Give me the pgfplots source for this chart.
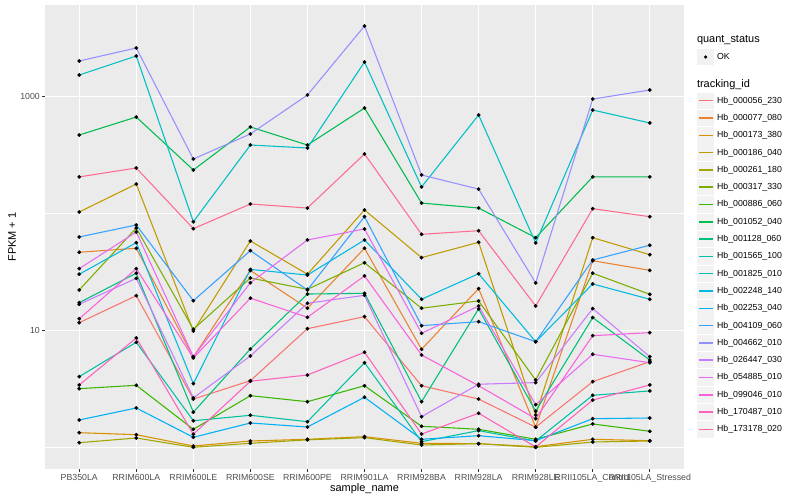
\documentclass[border=0pt]{standalone}
\usepackage{fontspec}
\setmainfont{Liberation Sans}
\usepackage{pgfplots}
\pgfplotsset{compat=1.18}
\definecolor{panel}{HTML}{EBEBEB}
\definecolor{keygrey}{HTML}{F2F2F2}
\definecolor{ticktext}{HTML}{4D4D4D}
\definecolor{tickcol}{HTML}{333333}
\definecolor{c1}{HTML}{F8766D}
\definecolor{c2}{HTML}{EA8331}
\definecolor{c3}{HTML}{D89000}
\definecolor{c4}{HTML}{C09B00}
\definecolor{c5}{HTML}{A3A500}
\definecolor{c6}{HTML}{7CAE00}
\definecolor{c7}{HTML}{39B600}
\definecolor{c8}{HTML}{00BB4E}
\definecolor{c9}{HTML}{00BF7D}
\definecolor{c10}{HTML}{00C1A3}
\definecolor{c11}{HTML}{00BFC4}
\definecolor{c12}{HTML}{00BAE0}
\definecolor{c13}{HTML}{00B0F6}
\definecolor{c14}{HTML}{35A2FF}
\definecolor{c15}{HTML}{9590FF}
\definecolor{c16}{HTML}{C77CFF}
\definecolor{c17}{HTML}{E76BF3}
\definecolor{c18}{HTML}{FA62DB}
\definecolor{c19}{HTML}{FF62BC}
\definecolor{c20}{HTML}{FF6C91}
\pgfplotsset{ser/.style={#1, line width=1.07bp, mark=*, mark size=1.8bp, mark options={draw=black, fill=black, line width=0.2bp}}}
\begin{document}
\begin{tikzpicture}
\useasboundingbox (0,0) rectangle (800bp,500bp);
\begin{axis}[
  at={(45bp,31bp)}, anchor=south west,
  scale only axis, width=639bp, height=464bp,
  xmin=-0.6, xmax=10.6,
  ymode=log, ymin=0.6533, ymax=6087,
  axis background/.style={fill=panel},
  axis line style={draw=none},
  xtick={0,1,2,3,4,5,6,7,8,9,10},
  xticklabels={PB350LA,RRIM600LA,RRIM600LE,RRIM600SE,RRIM600PE,RRIM901LA,RRIM928BA,RRIM928LA,RRIM928LE,RRII105LA\_Control,RRII105LA\_Stressed},
  ytick={10,1000}, yticklabels={10,1000},
  minor ytick={1,100},
  xmajorgrids, ymajorgrids, yminorgrids,
  major grid style={white, line width=1.07bp},
  minor grid style={white, line width=0.53bp},
  tick align=outside, xtick pos=bottom, ytick pos=left,
  major tick length=2.75bp, minor tick length=0pt,
  major tick style={tickcol, line width=1.07bp},
  tick label style={font=\fontsize{8.8}{10}\selectfont, text=ticktext},
  xticklabel style={inner sep=0pt, yshift=-2.2bp},
  yticklabel style={inner sep=0pt, xshift=-2.2bp},
  xlabel={sample\_name}, ylabel={FPKM + 1},
  label style={font=\fontsize{11}{13}\selectfont},
  xlabel style={at={(axis description cs:0.5,-0.0478)}, anchor=base, inner sep=0pt},
  ylabel style={at={(axis description cs:-0.0516,0.5)}, anchor=center, inner sep=0pt},
  legend image code/.code={\fill[keygrey, draw=none] (0.3bp,-8.2bp) rectangle (17bp,8.2bp); \path[draw=none, fill=none] (0bp,-8.65bp) rectangle (17.3bp,8.65bp); \draw[#1,mark=none,line width=1.45bp] (1.7bp,0bp) -- (15.6bp,0bp);},
  legend style={at={(axis description cs:1.02034,0.94181)}, anchor=north west, draw=none, fill=none, inner sep=0pt, outer sep=0pt, column sep=2.75bp, row sep=0pt, font=\fontsize{8.8}{10}\selectfont, nodes={inner sep=0pt, draw=none, fill=none}},
  legend cell align=left,
]
\addlegendimage{legend image code/.code={\path[draw=none, fill=none] (0bp,-8.35bp) rectangle (17.3bp,8bp);}}
\addlegendentry{\hspace*{-20.05bp}\fontsize{11}{13}\selectfont quant\_status}
\addlegendimage{legend image code/.code={\fill[keygrey, draw=none] (0.3bp,-8.2bp) rectangle (17bp,8.2bp); \path[draw=none, fill=none] (0bp,-8.65bp) rectangle (17.3bp,8.65bp); \fill[black, draw=none] (8.65bp,0bp) circle[radius=1.8bp];}}
\addlegendentry{OK}
\addlegendimage{legend image code/.code={\path[draw=none, fill=none] (0bp,-7.75bp) rectangle (17.3bp,18.65bp);}}
\addlegendentry{\hspace*{-20.05bp}\fontsize{11}{13}\selectfont tracking\_id}

\addplot[ser=c1] coordinates {(0,11.66) (1,19.85) (2,2.59) (3,3.72) (4,10.36) (5,13.13) (6,3.37) (7,2.59) (8,1.49) (9,3.65) (10,5.41)};
\addlegendentry{Hb\_000056\_230}
\addplot[ser=c2] coordinates {(0,46.7) (1,50.5) (2,5.93) (3,32.6) (4,15.5) (5,50.5) (6,6.91) (7,22.8) (8,1.49) (9,39.5) (10,32.7)};
\addlegendentry{Hb\_000077\_080}
\addplot[ser=c3] coordinates {(0,1.336) (1,1.284) (2,1.028) (3,1.134) (4,1.173) (5,1.235) (6,1.084) (7,1.076) (8,1.014) (9,1.173) (10,1.141)};
\addlegendentry{Hb\_000173\_380}
\addplot[ser=c4] coordinates {(0,103.2) (1,179) (2,9.90) (3,58.3) (4,30.3) (5,107.4) (6,42.0) (7,56.8) (8,1.89) (9,62.2) (10,44.5)};
\addlegendentry{Hb\_000186\_040}
\addplot[ser=c5] coordinates {(0,1.097) (1,1.203) (2,1.002) (3,1.084) (4,1.16) (5,1.211) (6,1.048) (7,1.076) (8,1.0) (9,1.112) (10,1.134)};
\addlegendentry{Hb\_000261\_180}
\addplot[ser=c6] coordinates {(0,22.2) (1,75.3) (2,10.24) (3,28.1) (4,22.5) (5,38.0) (6,15.5) (7,17.9) (8,3.77) (9,30.9) (10,20.4)};
\addlegendentry{Hb\_000317\_330}
\addplot[ser=c7] coordinates {(0,3.178) (1,3.398) (2,1.428) (3,2.769) (4,2.46) (5,3.37) (6,1.515) (7,1.428) (8,1.173) (9,1.586) (10,1.373)};
\addlegendentry{Hb\_000886\_060}
\addplot[ser=c8] coordinates {(0,470) (1,670) (2,236) (3,551) (4,386) (5,800) (6,123) (7,111.6) (8,62.2) (9,206) (10,206)};
\addlegendentry{Hb\_001052\_040}
\addplot[ser=c9] coordinates {(0,17.3) (1,30.9) (2,2.00) (3,6.95) (4,20.5) (5,20.8) (6,2.46) (7,15.3) (8,2.04) (9,12.9) (10,5.59)};
\addlegendentry{Hb\_001128\_060}
\addplot[ser=c10] coordinates {(0,4.03) (1,7.93) (2,1.69) (3,1.882) (4,1.659) (5,5.30) (6,1.119) (7,1.390) (8,1.134) (9,2.79) (10,3.04)};
\addlegendentry{Hb\_001565\_100}
\addplot[ser=c11] coordinates {(0,1533) (1,2229) (2,85.2) (3,386) (4,364) (5,1981) (6,169) (7,697) (8,56.1) (9,769) (10,596)};
\addlegendentry{Hb\_001825\_010}
\addplot[ser=c12] coordinates {(0,30.3) (1,56.4) (2,3.51) (3,33.3) (4,29.8) (5,59.5) (6,18.5) (7,30.6) (8,8.02) (9,25.0) (10,18.5)};
\addlegendentry{Hb\_002248\_140}
\addplot[ser=c13] coordinates {(0,1.715) (1,2.173) (2,1.220) (3,1.617) (4,1.494) (5,2.683) (6,1.173) (7,1.259) (8,1.141) (9,1.76) (10,1.784)};
\addlegendentry{Hb\_002253\_040}
\addplot[ser=c14] coordinates {(0,63.1) (1,79.9) (2,17.98) (3,48.2) (4,22.2) (5,94.1) (6,11.0) (7,11.9) (8,8.02) (9,40.1) (10,53.6)};
\addlegendentry{Hb\_004109\_060}
\addplot[ser=c15] coordinates {(0,2020) (1,2610) (2,293) (3,480) (4,1034) (5,4025) (6,214) (7,162) (8,25.5) (9,955) (10,1141)};
\addlegendentry{Hb\_004662\_010}
\addplot[ser=c16] coordinates {(0,16.75) (1,27.96) (2,2.65) (3,6.05) (4,17.1) (5,20.0) (6,1.83) (7,3.47) (8,3.58) (9,15.4) (10,5.97)};
\addlegendentry{Hb\_026447\_030}
\addplot[ser=c17] coordinates {(0,33.8) (1,69.6) (2,5.97) (3,25.6) (4,59.5) (5,73.8) (6,9.46) (7,16.2) (8,2.32) (9,6.26) (10,5.30)};
\addlegendentry{Hb\_054885\_010}
\addplot[ser=c18] coordinates {(0,12.6) (1,33.8) (2,5.82) (3,18.9) (4,12.97) (5,29.3) (6,6.17) (7,3.37) (8,1.76) (9,9.03) (10,9.58)};
\addlegendentry{Hb\_099046\_010}
\addplot[ser=c19] coordinates {(0,3.42) (1,8.63) (2,1.295) (3,3.68) (4,4.16) (5,6.51) (6,1.30) (7,1.96) (8,1.008) (9,2.54) (10,3.42)};
\addlegendentry{Hb\_170487\_010}
\addplot[ser=c20] coordinates {(0,206) (1,245.5) (2,74.3) (3,120.8) (4,111.6) (5,323.5) (6,66.5) (7,71.4) (8,16.2) (9,110.1) (10,94.1)};
\addlegendentry{Hb\_173178\_020}
\end{axis}
\end{tikzpicture}
\end{document}
